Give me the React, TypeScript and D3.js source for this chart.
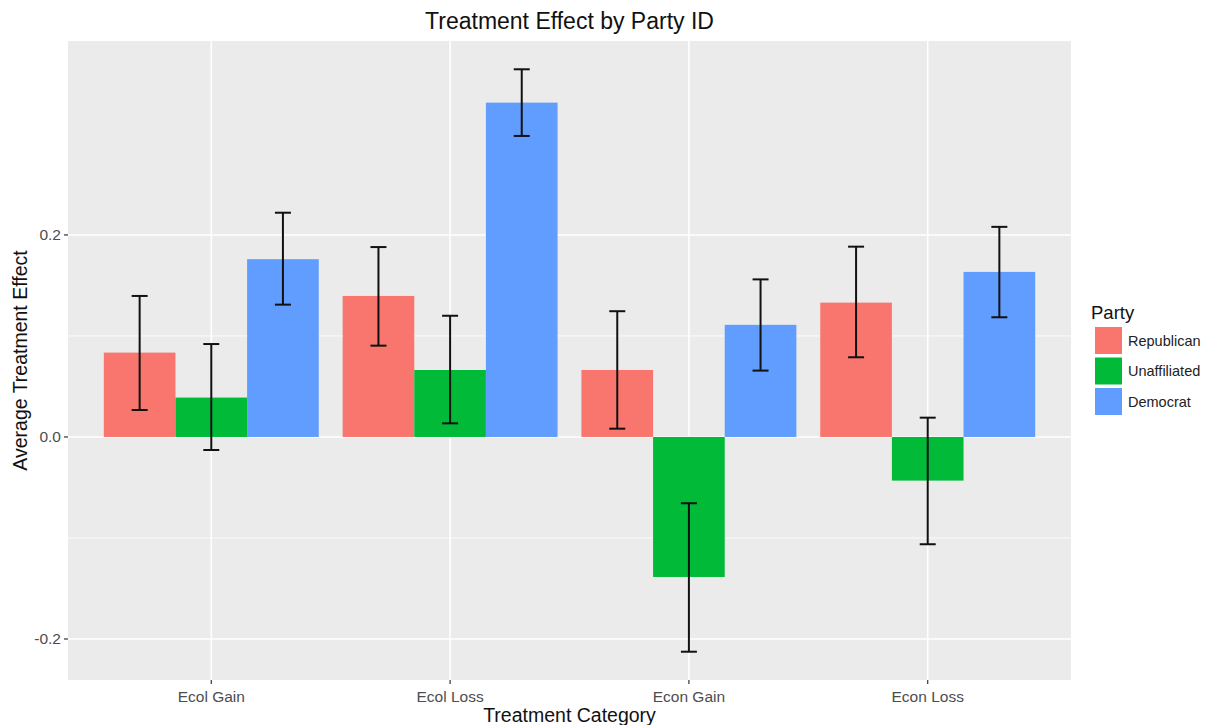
import { useEffect, useRef } from "react";
import * as d3 from "d3";

// categories and groups
const categories = ["Ecol Gain", "Ecol Loss", "Econ Gain", "Econ Loss"];
const parties = ["Republican", "Unaffiliated", "Democrat"];
const partyColors = ["#F8766D", "#00BA38", "#619CFF"];

// mean effect per category, one array per party
const republican = [0.0835, 0.1396, 0.0663, 0.133];
const unaffiliated = [0.039, 0.0663, -0.1386, -0.0432];
const democrat = [0.176, 0.331, 0.111, 0.1634];

// error bar bounds
const republicanLo = [0.0267, 0.0904, 0.0082, 0.0789];
const republicanHi = [0.1396, 0.188, 0.1245, 0.1884];
const unaffiliatedLo = [-0.0129, 0.0135, -0.2126, -0.1062];
const unaffiliatedHi = [0.092, 0.12, -0.0656, 0.0191];
const democratLo = [0.131, 0.298, 0.0657, 0.1185];
const democratHi = [0.222, 0.364, 0.156, 0.208];

const yTicks = [-0.2, 0.0, 0.2];
const yMinor = [-0.1, 0.1];

export default function App() {
  const svgRef = useRef<SVGSVGElement>(null);

  useEffect(() => {
    const svg = d3.select(svgRef.current);
    svg.selectAll("*").remove();

    const panel = { left: 68, right: 1071, top: 41, bottom: 680 };
    const font = "'Liberation Sans', Arial, sans-serif";

    // discrete positions 1..n with 0.6 expansion each side (like ggplot)
    const x = d3.scaleLinear()
      .domain([0.4, categories.length + 0.6])
      .range([panel.left, panel.right]);
    const unit = x(2) - x(1);
    const xc = (i: number) => x(i + 1);
    const barW = unit * 0.3;

    const y = d3.scaleLinear().domain([-0.2406, 0.392]).range([panel.bottom, panel.top]);

    const rows = parties.map((p, j) => ({
      party: p,
      color: partyColors[j],
      vals: [republican, unaffiliated, democrat][j],
      lo: [republicanLo, unaffiliatedLo, democratLo][j],
      hi: [republicanHi, unaffiliatedHi, democratHi][j],
      offset: (j - 1) * barW,
    }));

    // panel background
    svg.append("rect")
      .attr("x", panel.left).attr("y", panel.top)
      .attr("width", panel.right - panel.left).attr("height", panel.bottom - panel.top)
      .attr("fill", "#EBEBEB");

    const grid = svg.append("g");
    yMinor.forEach(v => {
      grid.append("line")
        .attr("x1", panel.left).attr("x2", panel.right)
        .attr("y1", y(v)).attr("y2", y(v))
        .attr("stroke", "#fff").attr("stroke-width", 0.8);
    });
    yTicks.forEach(v => {
      grid.append("line")
        .attr("x1", panel.left).attr("x2", panel.right)
        .attr("y1", y(v)).attr("y2", y(v))
        .attr("stroke", "#fff").attr("stroke-width", 1.6);
    });
    categories.forEach((c, i) => {
      grid.append("line")
        .attr("x1", xc(i)).attr("x2", xc(i))
        .attr("y1", panel.top).attr("y2", panel.bottom)
        .attr("stroke", "#fff").attr("stroke-width", 1.6);
    });

    // bars
    rows.forEach(r => {
      svg.append("g").selectAll("rect")
        .data(categories)
        .join("rect")
        .attr("x", (c, i) => xc(i) + r.offset - barW / 2)
        .attr("width", barW)
        .attr("y", (c, i) => y(Math.max(0, r.vals[i])))
        .attr("height", (c, i) => Math.abs(y(r.vals[i]) - y(0)))
        .attr("fill", r.color);
    });

    // error bars
    const capW = 8;
    rows.forEach(r => {
      const g = svg.append("g").attr("stroke", "#111").attr("stroke-width", 2);
      categories.forEach((c, i) => {
        const cx = xc(i) + r.offset;
        g.append("line").attr("x1", cx).attr("x2", cx)
          .attr("y1", y(r.lo[i])).attr("y2", y(r.hi[i]));
        [r.lo[i], r.hi[i]].forEach(v => {
          g.append("line").attr("x1", cx - capW).attr("x2", cx + capW)
            .attr("y1", y(v)).attr("y2", y(v));
        });
      });
    });

    // y axis
    const yAxis = svg.append("g");
    yTicks.forEach(v => {
      yAxis.append("line")
        .attr("x1", panel.left - 4).attr("x2", panel.left)
        .attr("y1", y(v)).attr("y2", y(v))
        .attr("stroke", "#333").attr("stroke-width", 1.2);
      yAxis.append("text")
        .attr("x", panel.left - 7).attr("y", y(v))
        .attr("dy", "0.35em").attr("text-anchor", "end")
        .attr("font-family", font).attr("font-size", 15.5).attr("fill", "#4D4D4D")
        .text(v.toFixed(1));
    });

    // x axis
    const xAxis = svg.append("g");
    categories.forEach((c, i) => {
      xAxis.append("line")
        .attr("x1", xc(i)).attr("x2", xc(i))
        .attr("y1", panel.bottom).attr("y2", panel.bottom + 4)
        .attr("stroke", "#333").attr("stroke-width", 1.2);
      xAxis.append("text")
        .attr("x", xc(i)).attr("y", panel.bottom + 22)
        .attr("text-anchor", "middle")
        .attr("font-family", font).attr("font-size", 15.5).attr("fill", "#4D4D4D")
        .text(c);
    });

    const midX = (panel.left + panel.right) / 2;

    // titles
    svg.append("text")
      .attr("x", midX).attr("y", 29)
      .attr("text-anchor", "middle")
      .attr("font-family", font).attr("font-size", 23).attr("fill", "#111")
      .text("Treatment Effect by Party ID");

    svg.append("text")
      .attr("x", midX).attr("y", 722)
      .attr("text-anchor", "middle")
      .attr("font-family", font).attr("font-size", 19.5).attr("fill", "#111")
      .text("Treatment Category");

    svg.append("text")
      .attr("transform", `translate(27,${(panel.top + panel.bottom) / 2}) rotate(-90)`)
      .attr("text-anchor", "middle")
      .attr("font-family", font).attr("font-size", 19.5).attr("fill", "#111")
      .text("Average Treatment Effect");

    // legend
    const lg = svg.append("g").attr("transform", "translate(1095,0)");
    lg.append("text")
      .attr("x", -4).attr("y", 319)
      .attr("font-family", font).attr("font-size", 18.5).attr("fill", "#111")
      .text("Party");
    parties.forEach((p, i) => {
      const top = 327 + i * 30.5;
      lg.append("rect")
        .attr("x", 0).attr("y", top).attr("width", 27).attr("height", 27)
        .attr("fill", partyColors[i]);
      lg.append("text")
        .attr("x", 33).attr("y", top + 13.5).attr("dy", "0.35em")
        .attr("font-family", font).attr("font-size", 14.5).attr("fill", "#222")
        .text(p);
    });
  }, []);

  return (
    <svg ref={svgRef} width={1209} height={725}
      style={{ display: "block", position: "absolute", left: 0, top: 0, background: "#fff" }} />
  );
}
